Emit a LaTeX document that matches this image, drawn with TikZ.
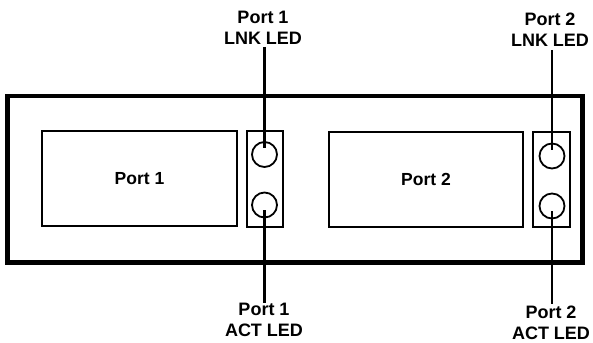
\documentclass[tikz,border=0pt]{standalone}
\usepackage{fontspec}
\setmainfont{Liberation Sans}
\begin{document}
\begin{tikzpicture}[x=1pt,y=-1pt,
  frame/.style={draw=black,line width=4.5pt},
  portbox/.style={draw=black,line width=1.8pt,inner sep=0pt,font=\fontsize{17.5}{18}\selectfont\bfseries},
  ledbox/.style={draw=black,line width=1.8pt,inner sep=0pt},
  led/.style={draw=black,circle,line width=1.8pt,minimum size=25pt,inner sep=0pt},
  leader/.style={draw=black,line width=2.8pt},
  lbl/.style={align=center,font=\fontsize{18}{21}\selectfont\bfseries,inner sep=0pt}]
\useasboundingbox (0,0) rectangle (593,342);
\draw[frame] (7.5,96) rectangle (582.5,262.5);
\node[portbox,minimum width=195pt,minimum height=95pt] (p1) at (139.5,178.5) {Port 1};
\node[portbox,minimum width=194pt,minimum height=95pt] (p2) at (426,179.5) {Port 2};
\node[ledbox,minimum width=36pt,minimum height=96pt] (b1) at (265,179) {};
\node[ledbox,minimum width=37pt,minimum height=95pt] (b2) at (551.5,179.5) {};
\node[led] (l1) at (264.5,154.5) {};
\node[led] (a1) at (264.5,205) {};
\node[led] (l2) at (552,156) {};
\node[led] (a2) at (552,206) {};
\node[lbl] (tl1) at (263,28) {Port 1\\LNK LED};
\node[lbl] (ta1) at (264,320) {Port 1\\ACT LED};
\node[lbl] (tl2) at (550,30) {Port 2\\LNK LED};
\node[lbl] (ta2) at (551,323) {Port 2\\ACT LED};
\coordinate (e1) at (264.5,148);
\coordinate (s1) at (264.5,210);
\coordinate (e2) at (552,150);
\coordinate (s2) at (552,211);
\draw[leader] (264.5,47) -- (e1);
\draw[leader] (s1) -- (264.5,303);
\draw[leader] (552,50) -- (e2);
\draw[leader] (s2) -- (552,304);
\end{tikzpicture}
\end{document}
